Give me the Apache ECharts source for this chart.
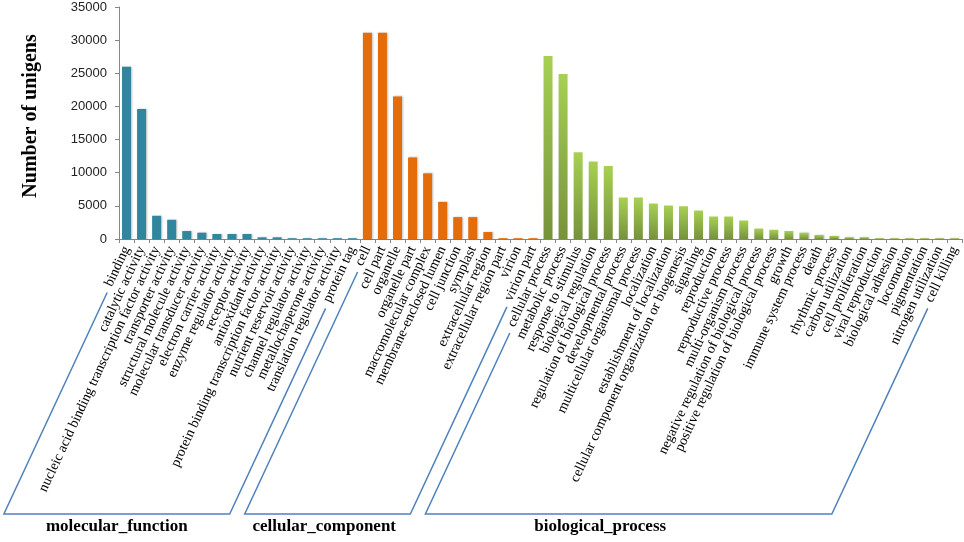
<!DOCTYPE html>
<html><head><meta charset="utf-8">
<script src="https://cdn.jsdelivr.net/npm/echarts@6/dist/echarts.min.js"></script>
<style>html,body{margin:0;padding:0;background:#fff}#c{width:964px;height:542px}</style>
</head><body><div id="c"></div>
<script>
const mfCategories = ["binding","catalytic activity","nucleic acid binding transcription factor activity","transporter activity","structural molecule activity","molecular transducer activity","electron carrier activity","enzyme regulator activity","receptor activity","antioxidant activity","protein binding transcription factor activity","nutrient reservoir activity","channel regulator activity","metallochaperone activity","translation regulator activity","protein tag"];
const mfValues = [26000,19600,3500,2900,1200,950,750,750,750,250,250,120,120,120,120,120];
const ccCategories = ["cell","cell part","organelle","organelle part","macromolecular complex","membrane-enclosed lumen","cell junction","symplast","extracellular region","extracellular region part","virion","virion part"];
const ccValues = [31100,31100,21500,12300,9900,5600,3300,3300,1050,120,120,120];
const bpCategories = ["cellular process","metabolic process","response to stimulus","biological regulation","regulation of biological process","developmental process","multicellular organismal process","localization","establishment of localization","cellular component organization or biogenesis","signaling","reproduction","reproductive process","multi-organism process","negative regulation of biological process","positive regulation of biological process","growth","immune system process","death","rhythmic process","carbon utilization","cell proliferation","viral reproduction","biological adhesion","locomotion","pigmentation","nitrogen utilization","cell killing"];
const bpValues = [27600,24900,13100,11700,11000,6250,6250,5350,5050,4950,4300,3400,3400,2800,1600,1400,1200,950,600,450,250,250,120,120,120,120,120,120];
const groupNames = ["molecular_function","cellular_component","biological_process"];
const yTicks = {min:0, max:35000, interval:5000};

const groups = [
  {cats: mfCategories, vals: mfValues, color: '#31859C'},
  {cats: ccCategories, vals: ccValues, color: '#E46C0A'},
  {cats: bpCategories, vals: bpValues, color: new echarts.graphic.LinearGradient(0,0,0,1,[{offset:0,color:'#A7D053'},{offset:1,color:'#76923C'}])}
];
const allCats = [].concat(mfCategories, ccCategories, bpCategories);
const barData = [];
groups.forEach(g => g.vals.forEach(v => barData.push({value: v, itemStyle: {color: g.color}})));

const LABEL_FONT = "14px 'Liberation Serif', 'Times New Roman', serif";
const ROT = 65, MARGIN = 8;

const chart = echarts.init(document.getElementById('c'), null, {renderer: 'canvas'});
chart.setOption({
  animation: false,
  backgroundColor: '#fff',
  grid: {left: 119, right: 2, top: 7, bottom: 303},
  xAxis: {
    type: 'category', data: allCats,
    axisLine: {lineStyle: {color: '#868686', width: 1}},
    axisTick: {show: true, length: 4, alignWithLabel: false, interval: 0, lineStyle: {color: '#868686'}},
    axisLabel: {interval: 0, rotate: ROT, margin: MARGIN, color: '#000', fontFamily: "'Liberation Serif', 'Times New Roman', serif", fontSize: 14}
  },
  yAxis: {
    type: 'value', min: yTicks.min, max: yTicks.max, interval: yTicks.interval,
    name: 'Number of unigens', nameLocation: 'middle', nameGap: 78,
    nameTextStyle: {fontFamily: "'Liberation Serif', 'Times New Roman', serif", fontWeight: 'bold', fontSize: 20, color: '#000', padding: [0, 0, 0, 14]},
    axisLine: {show: true, lineStyle: {color: '#868686'}},
    axisTick: {show: true, length: 4, lineStyle: {color: '#868686'}},
    axisLabel: {color: '#222', fontFamily: "'Liberation Sans', Arial, sans-serif", fontSize: 13, margin: 12, formatter: v => String(v)},
    splitLine: {show: false}
  },
  series: [{
    type: 'bar', data: barData, barWidth: 9,
    itemStyle: {shadowColor: 'rgba(0,0,0,0.25)', shadowBlur: 2, shadowOffsetX: 1, shadowOffsetY: 0}
  }]
});

// Bracket lines along the rotated labels
const ctx = document.createElement('canvas').getContext('2d');
ctx.font = LABEL_FONT;
const th = ROT * Math.PI / 180;
const dx = -Math.cos(th), dy = Math.sin(th);
const axisY = chart.convertToPixel({yAxisIndex: 0}, 0);
const bottomY = 514;
function labelLine(cat) {
  const cx = chart.convertToPixel({xAxisIndex: 0}, cat);
  const w = ctx.measureText(cat).width + 3;
  const ex = cx + w * dx, ey = axisY + MARGIN + w * dy + 4;
  const t = (bottomY - ey) / dy;
  return {top: [ex, ey], bottom: [ex + t * dx, bottomY]};
}
const labelFrac = [0.5, 0.48, 0.43];
const graphics = [];
groups.forEach((g, gi) => {
  const a = labelLine(g.cats[0]);
  const b = labelLine(g.cats[g.cats.length - 1]);
  graphics.push({type: 'polyline', shape: {points: [a.top, a.bottom, b.bottom, b.top]}, style: {stroke: '#4F81BD', lineWidth: 1.5, fill: null}, silent: true});
  const lx = a.bottom[0] + (b.bottom[0] - a.bottom[0]) * labelFrac[gi];
  graphics.push({type: 'text', x: lx, y: 527, style: {text: groupNames[gi], font: "bold 17px 'Liberation Serif', 'Times New Roman', serif", fill: '#000', align: 'center', verticalAlign: 'middle'}, silent: true});
});
chart.setOption({graphic: graphics});
</script>
</body></html>
